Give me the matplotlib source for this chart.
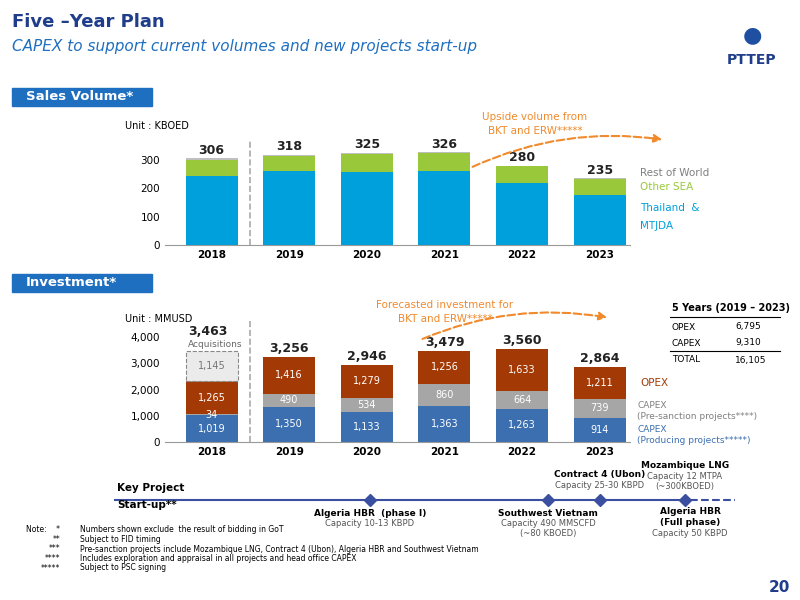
import matplotlib
matplotlib.use('Agg')
import matplotlib.pyplot as plt
from matplotlib.patches import FancyArrowPatch, Rectangle

years = ['2018', '2019', '2020', '2021', '2022', '2023']
# sales volume (KBOED)
thai = [243, 260, 258, 262, 220, 175]
other_sea = [58, 55, 64, 61, 57, 57]
rest_world = [5, 3, 3, 3, 3, 3]
sales_total = [306, 318, 325, 326, 280, 235]
# investment (MMUSD)
producing = [1019, 1350, 1133, 1363, 1263, 914]
presanction = [34, 490, 534, 860, 664, 739]
opex = [1265, 1416, 1279, 1256, 1633, 1211]
acquisitions = 1145
inv_total = ['3,463', '3,256', '2,946', '3,479', '3,560', '2,864']

BLUE1 = '#00a0dc'; GREEN = '#99c93b'; GRAY1 = '#bfbfbf'
BLUE2 = '#3b6fb0'; GRAY2 = '#a6a6a6'; RUST = '#a33a05'
NAVY = '#1f3d8a'; ORANGE = '#f08a2c'

fig = plt.figure(figsize=(8, 6), dpi=100)
W, H = 800, 600
def fx(x): return x / W
def fy(y): return 1 - y / H

fig.text(fx(12), fy(22), 'Five –Year Plan', color=NAVY, fontsize=13, fontweight='bold', va='center')
fig.text(fx(12), fy(46), 'CAPEX to support current volumes and new projects start-up', color='#1f6fc0', fontsize=11, style='italic', va='center')
fig.text(fx(752), fy(60), 'PTTEP', color=NAVY, fontsize=10, fontweight='bold', ha='center', va='center')
fig.text(fx(752), fy(35), '●', color='#1f4fa0', fontsize=16, ha='center', va='center')
fig.text(fx(790), fy(587), '20', color=NAVY, fontsize=11, fontweight='bold', ha='right', va='center')

for y, lab in [(97, 'Sales Volume*'), (283, 'Investment*')]:
    fig.patches.append(Rectangle((fx(12), fy(y + 9)), fx(140), 18 / H, transform=fig.transFigure,
                                 color='#1f6fc0', zorder=0))
    fig.text(fx(26), fy(y), lab, color='white', fontsize=9.5, fontweight='bold', va='center')

x = range(len(years))
# --- sales volume
ax1 = fig.add_axes([fx(165), fy(245), fx(630) - fx(165), 105 / H])
ax1.bar(x, thai, 0.67, color=BLUE1)
ax1.bar(x, other_sea, 0.67, bottom=thai, color=GREEN)
b3 = [t + o for t, o in zip(thai, other_sea)]
ax1.bar(x, rest_world, 0.67, bottom=b3, color=GRAY1)
for i, t in enumerate(sales_total):
    ax1.text(i, t + 5, str(t), ha='center', va='bottom', fontsize=9, fontweight='bold', color='#222222')
ax1.set_xlim(-0.6, 5.39); ax1.set_ylim(0, 370)
ax1.set_yticks([0, 100, 200, 300])
ax1.set_xticks(list(x)); ax1.set_xticklabels(years, fontweight='bold')
ax1.tick_params(labelsize=7.5, length=0)
for s in ['top', 'right', 'left']: ax1.spines[s].set_visible(False)
ax1.spines['bottom'].set_color('#999999')
ax1.axvline(0.5, color='#aaaaaa', ls='--', lw=1.2)
fig.text(fx(125), fy(126), 'Unit : KBOED', fontsize=7, va='center')
fig.text(fx(640), fy(173), 'Rest of World', color='#808080', fontsize=7.5, va='center')
fig.text(fx(640), fy(187), 'Other SEA', color=GREEN, fontsize=7.5, va='center')
fig.text(fx(640), fy(208), 'Thailand  &', color=BLUE1, fontsize=7.5, va='center')
fig.text(fx(640), fy(226), 'MTJDA', color=BLUE1, fontsize=7.5, va='center')
fig.text(fx(535), fy(124), 'Upside volume from\nBKT and ERW*****', color=ORANGE, fontsize=7.5, ha='center', va='center', linespacing=1.6)
fig.patches.append(FancyArrowPatch((fx(470), fy(168)), (fx(665), fy(140)), transform=fig.transFigure,
                                   connectionstyle='arc3,rad=-0.15', arrowstyle='-|>', mutation_scale=12,
                                   color=ORANGE, ls='--', lw=1.5))

# --- investment
ax2 = fig.add_axes([fx(165), fy(442), fx(630) - fx(165), 122 / H])
ax2.bar(x, producing, 0.67, color=BLUE2)
ax2.bar(x, presanction, 0.67, bottom=producing, color=GRAY2)
bo = [p + q for p, q in zip(producing, presanction)]
ax2.bar(x, opex, 0.67, bottom=bo, color=RUST)
top = [b + o for b, o in zip(bo, opex)]
ax2.bar(0, acquisitions, 0.67, bottom=top[0], color='#ebebeb', edgecolor='#888888', ls='--', lw=0.8)
for i in x:
    ax2.text(i, producing[i] / 2, f'{producing[i]:,}', ha='center', va='center', color='white', fontsize=7)
    ax2.text(i, producing[i] + presanction[i] / 2, f'{presanction[i]:,}', ha='center', va='center', color='white', fontsize=7)
    ax2.text(i, bo[i] + opex[i] / 2, f'{opex[i]:,}', ha='center', va='center', color='white', fontsize=7)
    if i > 0:
        ax2.text(i, top[i] + 70, inv_total[i], ha='center', va='bottom', fontsize=9, fontweight='bold', color='#222222')
ax2.text(0, top[0] + acquisitions / 2, f'{acquisitions:,}', ha='center', va='center', color='#777777', fontsize=7)
ax2.text(-0.3, top[0] + acquisitions + 80, 'Acquisitions', ha='left', va='bottom', color='#666666', fontsize=6.5)
ax2.text(-0.3, top[0] + acquisitions + 500, inv_total[0], ha='left', va='bottom', fontsize=9, fontweight='bold', color='#222222')
ax2.set_xlim(-0.6, 5.39); ax2.set_ylim(0, 4650)
ax2.set_yticks([0, 1000, 2000, 3000, 4000])
ax2.set_yticklabels(['0', '1,000', '2,000', '3,000', '4,000'])
ax2.set_xticks(list(x)); ax2.set_xticklabels(years, fontweight='bold')
ax2.tick_params(labelsize=7.5, length=0)
for s in ['top', 'right', 'left']: ax2.spines[s].set_visible(False)
ax2.spines['bottom'].set_color('#999999')
ax2.axvline(0.5, color='#aaaaaa', ls='--', lw=1.2)
fig.text(fx(125), fy(319), 'Unit : MMUSD', fontsize=7, va='center')
fig.text(fx(640), fy(383), 'OPEX', color=RUST, fontsize=7.5, va='center')
fig.text(fx(637), fy(411), 'CAPEX\n(Pre-sanction projects****)', color='#808080', fontsize=6.5, va='center')
fig.text(fx(637), fy(435), 'CAPEX\n(Producing projects*****)', color=BLUE2, fontsize=6.5, va='center')
fig.text(fx(445), fy(312), 'Forecasted investment for\nBKT and ERW*****', color=ORANGE, fontsize=7.5, ha='center', va='center', linespacing=1.5)
fig.patches.append(FancyArrowPatch((fx(420), fy(340)), (fx(610), fy(318)), transform=fig.transFigure,
                                   connectionstyle='arc3,rad=-0.15', arrowstyle='-|>', mutation_scale=12,
                                   color=ORANGE, ls='--', lw=1.5))
fig.text(fx(672), fy(308), '5 Years (2019 – 2023)', fontsize=7, fontweight='bold', va='center')
fig.lines.append(plt.Line2D([fx(670), fx(780)], [fy(317), fy(317)], transform=fig.transFigure, color='k', lw=0.8))
for yy, a, b in [(327, 'OPEX', '6,795'), (343, 'CAPEX', '9,310'), (360, 'TOTAL', '16,105')]:
    fig.text(fx(672), fy(yy), a, fontsize=6.5, va='center')
    fig.text(fx(735), fy(yy), b, fontsize=6.5, va='center')
fig.lines.append(plt.Line2D([fx(670), fx(780)], [fy(351), fy(351)], transform=fig.transFigure, color='k', lw=0.8))

# --- timeline
ty = fy(500)
fig.lines.append(plt.Line2D([fx(115), fx(690)], [ty, ty], transform=fig.transFigure, color='#3b4fa0', lw=1.5))
fig.lines.append(plt.Line2D([fx(690), fx(735)], [ty, ty], transform=fig.transFigure, color='#3b4fa0', lw=1.5, ls='--'))
fig.text(fx(117), fy(488), 'Key Project', fontsize=7.5, fontweight='bold', va='center')
fig.text(fx(117), fy(505), 'Start-up**', fontsize=7.5, fontweight='bold', va='center')
ms = [(370, 'Algeria HBR  (phase I)', 'Capacity 10-13 KBPD', 'below'),
      (548, 'Southwest Vietnam', 'Capacity 490 MMSCFD\n(~80 KBOED)', 'below'),
      (600, 'Contract 4 (Ubon)', 'Capacity 25-30 KBPD', 'above'),
      (685, 'Mozambique LNG', 'Capacity 12 MTPA\n(~300KBOED)', 'above')]
for px, name, cap, pos in ms:
    fig.lines.append(plt.Line2D([fx(px)], [ty], transform=fig.transFigure, marker='D', ms=6, color='#3b4fa0'))
    if pos == 'below':
        fig.text(fx(px), fy(513), name, fontsize=6.5, fontweight='bold', ha='center', va='center')
        fig.text(fx(px), fy(519), cap, fontsize=6, color='#555555', ha='center', va='top')
    elif px == 600:
        fig.text(fx(px), fy(475), name, fontsize=6.5, fontweight='bold', ha='center', va='center')
        fig.text(fx(px), fy(486), cap, fontsize=6, color='#555555', ha='center', va='center')
    else:
        fig.text(fx(px), fy(465), name, fontsize=6.5, fontweight='bold', ha='center', va='center')
        fig.text(fx(px), fy(472), cap, fontsize=6, color='#555555', ha='center', va='top')
fig.text(fx(690), fy(517), 'Algeria HBR\n(Full phase)', fontsize=6.5, fontweight='bold', ha='center', va='center')
fig.text(fx(690), fy(533), 'Capacity 50 KBPD', fontsize=6, color='#555555', ha='center', va='center')

notes = [('Note:    *', 'Numbers shown exclude  the result of bidding in GoT'),
         ('**', 'Subject to FID timing'),
         ('***', 'Pre-sanction projects include Mozambique LNG, Contract 4 (Ubon), Algeria HBR and Southwest Vietnam'),
         ('****', 'Includes exploration and appraisal in all projects and head office CAPEX'),
         ('*****', 'Subject to PSC signing')]
for k, (a, b) in enumerate(notes):
    yy = fy(530 + k * 9.5)
    fig.text(fx(60), yy, a, fontsize=5.5, ha='right', va='center')
    fig.text(fx(80), yy, b, fontsize=5.5, va='center')

fig.savefig('out.png', dpi=100)
